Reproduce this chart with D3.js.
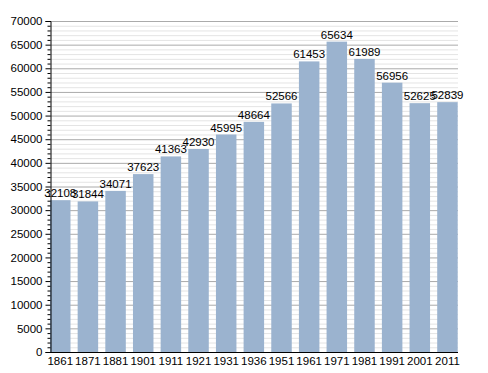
<!DOCTYPE html>
<html><head><meta charset="utf-8">
<script src="https://cdn.jsdelivr.net/npm/d3@7"></script>
<style>body{margin:0;background:#fff}svg{display:block}text{font-family:"Liberation Sans",Arial,sans-serif}</style>
</head><body><svg id="c" width="488" height="373"></svg>
<script>
const years = ["1861","1871","1881","1901","1911","1921","1931","1936","1951","1961","1971","1981","1991","2001","2011"];
const population = [32108,31844,34071,37623,41363,42930,45995,48664,52566,61453,65634,61989,56956,52625,52839];
const yTicks = [0,5000,10000,15000,20000,25000,30000,35000,40000,45000,50000,55000,60000,65000,70000];

const svg = d3.select("#c");
const x = d3.scaleBand().domain(years).range([50, 457.7]).paddingInner(0.259).paddingOuter(0).align(0);
const y = d3.scaleLinear().domain([0, 70000]).range([352, 21]);

const minor = d3.range(0, 70001, 1000);
// minor grid
svg.append("g").selectAll("line").data(minor.filter(v => v % 5000 !== 0)).join("line")
  .attr("x1", 50).attr("x2", 458).attr("y1", d => y(d) + 0.5).attr("y2", d => y(d) + 0.5)
  .attr("stroke", "#e4e4e4").attr("stroke-width", 1);
// major grid
svg.append("g").selectAll("line").data(yTicks.filter(v => v > 0)).join("line")
  .attr("x1", 50).attr("x2", 458).attr("y1", d => y(d) + 0.5).attr("y2", d => y(d) + 0.5)
  .attr("stroke", "#aaaaaa").attr("stroke-width", 1);

// bars
svg.append("g").selectAll("rect").data(years).join("rect")
  .attr("x", d => x(d)).attr("width", x.bandwidth())
  .attr("y", (d, i) => y(population[i])).attr("height", (d, i) => y(0) - y(population[i]))
  .attr("fill", "#9bb3cf");

// value labels
svg.append("g").selectAll("text").data(years).join("text")
  .attr("x", d => x(d) + x.bandwidth() / 2).attr("y", (d, i) => y(population[i]) - 3)
  .attr("text-anchor", "middle").attr("font-size", 11.5).attr("fill", "#000")
  .text((d, i) => population[i]);

// y axis
const yAxis = d3.axisLeft(y).tickValues(yTicks).tickFormat(d3.format("d")).tickSize(5).tickPadding(3);
const gy = svg.append("g").attr("transform", "translate(50.5,0)").call(yAxis);
gy.select(".domain").attr("stroke", "#000");
gy.selectAll(".tick line").attr("stroke", "#000");
gy.selectAll("text").attr("font-size", 11.5).attr("fill", "#000").attr("font-family", "Liberation Sans, Arial, sans-serif");
// minor ticks
const yMinor = d3.axisLeft(y).tickValues(minor.filter(v => v % 5000 !== 0)).tickSize(3).tickFormat("");
const gm = svg.append("g").attr("transform", "translate(50.5,0)").call(yMinor);
gm.select(".domain").remove();
gm.selectAll(".tick line").attr("stroke", "#000");

// x axis
const xAxis = d3.axisBottom(x).tickSize(0).tickPadding(4);
const gx = svg.append("g").attr("transform", "translate(0,352.5)").call(xAxis);
gx.select(".domain").attr("stroke", "#000").attr("d", "M50,0H458");
gx.selectAll("text").attr("font-size", 11.5).attr("fill", "#000").attr("font-family", "Liberation Sans, Arial, sans-serif");
</script></body></html>
